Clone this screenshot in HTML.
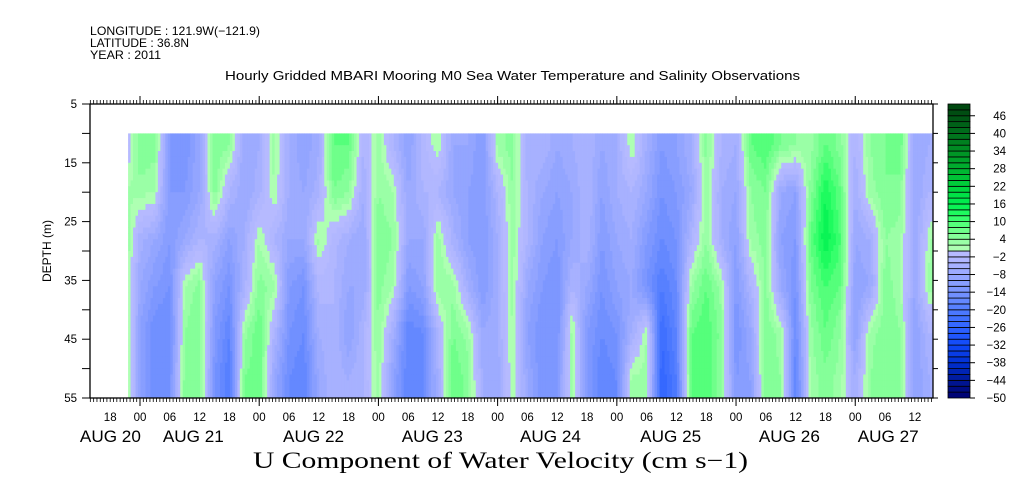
<!DOCTYPE html>
<html><head><meta charset="utf-8"><style>
html,body{margin:0;padding:0;background:#fff;}
svg{display:block;font-family:"Liberation Sans",sans-serif;}
</style></head><body>
<svg id="chart" width="1009" height="504" viewBox="0 0 1009 504" xmlns="http://www.w3.org/2000/svg">
<g font-size="12" fill="#000">
<text x="90" y="35" textLength="170" lengthAdjust="spacingAndGlyphs">LONGITUDE : 121.9W(−121.9)</text>
<text x="90" y="47" textLength="99" lengthAdjust="spacingAndGlyphs">LATITUDE : 36.8N</text>
<text x="90" y="59" textLength="71" lengthAdjust="spacingAndGlyphs">YEAR : 2011</text>
</g>
<text x="225" y="80" font-size="12.5" textLength="575" lengthAdjust="spacingAndGlyphs">Hourly Gridded MBARI Mooring M0 Sea Water Temperature and Salinity Observations</text>
<g id="heat"></g>
<g id="axes"></g>
<g id="cbar"></g>
<text x="0" y="0" transform="translate(51,251) rotate(-90)" text-anchor="middle" font-size="12">DEPTH (m)</text>
<text x="253" y="468" font-family="Liberation Serif,serif" font-size="23" textLength="495" lengthAdjust="spacingAndGlyphs">U Component of Water Velocity (cm s−1)</text>
</svg>
<script>
// hours since AUG 21 00:00, every 3 h
const times = [-3,0,3,6,9,12,15,18,21,24,27,30,33,36,39,42,45,48,51,54,57,60,63,66,69,72,75,78,81,84,87,90,93,96,99,102,105,108,111,114,117,120,123,126,129,132,135,138,141,144,147,150,153,156,159];
const depths = [12,20,28,36,44,52];
const vel12 = [-4,6,5,-12,-14,-8,6,4,-8,-6,3,-6,-10,-6,8,8,-4,3,-4,-10,-3,2,-8,-8,-12,3,5,-6,-4,-8,-6,-4,-8,-6,2,-6,-12,-10,-6,5,-4,-6,8,10,6,4,3,8,5,-4,4,6,8,-8,-6];
const vel20 = [2,3,2,-12,-12,-8,5,-4,-8,-5,2,-6,-8,-5,6,4,-6,4,2,-8,-4,-4,-8,-10,-12,-4,4,-4,-8,-10,-8,-4,-10,-6,-4,-8,-14,-12,-8,3,-6,-8,4,6,-8,-10,5,14,8,-6,3,6,5,-8,-4];
const vel28 = [5,-5,-8,-12,-8,-4,-5,-10,-6,2,-4,-8,-8,3,-3,-6,-8,6,4,-8,-8,3,-5,-10,-12,-6,3,-4,-10,-12,-8,-4,-12,-8,-6,-12,-16,-14,-4,4,-6,-10,3,5,-10,-12,8,16,10,-8,-6,4,3,-8,2];
const vel36 = [5,-8,-12,-14,2,5,-10,-14,-5,5,3,-12,-14,-3,-4,-8,-8,5,2,-12,-10,4,3,-6,-12,-6,3,-8,-12,-14,-4,-8,-14,-10,-8,-14,-20,-16,3,8,3,-12,-4,5,-8,-14,6,10,8,-10,-8,5,3,-8,3];
const vel44 = [6,-10,-16,-16,4,6,-12,-18,3,8,-4,-14,-16,-6,-4,-10,-4,4,-6,-18,-16,-4,6,3,-8,-6,2,-10,-14,-14,3,-12,-16,-14,-6,2,-24,-18,8,10,5,-14,-8,6,3,-16,3,8,4,-10,3,6,4,-10,-4];
const vel52 = [6,-10,-16,-14,5,6,-14,-20,6,8,-8,-16,-18,-8,-4,-6,-4,3,-10,-18,-16,-6,8,5,-6,-8,2,-8,-14,-12,3,-12,-18,-16,3,3,-26,-20,8,10,4,-12,-10,6,4,-18,3,5,3,-6,4,6,4,-10,-6];
const rows = [vel12,vel20,vel28,vel36,vel44,vel52];
const yTicks = [5,15,25,35,45,55];
const xTickHours = [-6,0,6,12,18,24,30,36,42,48,54,60,66,72,78,84,90,96,102,108,114,120,126,132,138,144,150,156];
const dayLabels = ["AUG 20","AUG 21","AUG 22","AUG 23","AUG 24","AUG 25","AUG 26","AUG 27"];
const dayLabelHours = [-12.1,4.6,28.8,52.7,76.5,100.7,124.6,144.5];
const cbarTicks = [-50,-44,-38,-32,-26,-20,-14,-8,-2,4,10,16,22,28,34,40,46];

const NS='http://www.w3.org/2000/svg';
const X0=90,X1=933,Y0=104,Y1=398;
const xScale=t=>140+t*4.967;
const yScale=d=>Y0+(d-5)*(Y1-Y0)/50;
const cScale=v=>Y1-(v+50)*(Y1-Y0)/100;
function mk(tag,attrs,parent){const e=document.createElementNS(NS,tag);for(const k in attrs)e.setAttribute(k,attrs[k]);parent.appendChild(e);return e;}
function lerpC(a,b,f){return a.map((v,i)=>Math.round(v+(b[i]-v)*f));}
const negStops=[[-50,[0,0,112]],[-44,[0,24,150]],[-38,[0,48,210]],[-32,[16,72,248]],[-26,[48,100,255]],[-20,[80,124,255]],[-14,[120,148,255]],[-8,[152,168,255]],[-2,[182,186,255]]];
const posStops=[[0,[184,255,184]],[4,[144,255,160]],[8,[100,255,130]],[12,[40,255,100]],[16,[0,240,80]],[22,[0,210,60]],[28,[0,178,48]],[34,[0,144,36]],[40,[0,112,28]],[48,[0,72,16]]];
function color(v){
  let lvl=Math.floor((Math.max(-50,Math.min(49.99,v))+50)/2);
  let c=-50+lvl*2+1;
  const st=c<0?negStops:posStops;
  if(c<=st[0][0])return 'rgb('+st[0][1]+')';
  for(let i=0;i<st.length-1;i++){if(c<=st[i+1][0]){const f=(c-st[i][0])/(st[i+1][0]-st[i][0]);return 'rgb('+lerpC(st[i][1],st[i+1][1],f)+')';}}
  return 'rgb('+st[st.length-1][1]+')';
}
function sample(t,d){
  let i=0;while(i<times.length-2&&t>times[i+1])i++;
  let ft=Math.max(0,Math.min(1,(t-times[i])/(times[i+1]-times[i])));
  let j=0;while(j<depths.length-2&&d>depths[j+1])j++;
  let fd=Math.max(0,Math.min(1,(d-depths[j])/(depths[j+1]-depths[j])));
  const a=rows[j][i]*(1-ft)+rows[j][i+1]*ft, b=rows[j+1][i]*(1-ft)+rows[j+1][i+1]*ft;
  return a*(1-fd)+b*fd;
}
const heat=document.getElementById('heat');
const tStart=-2.4,tEnd=159.4,dt=0.5,dd=1;
for(let t=tStart;t<tEnd;t+=dt){
  for(let d=10;d<55;d+=dd){
    const r=mk('rect',{x:xScale(t).toFixed(2),y:yScale(d).toFixed(2),width:(dt*4.967+0.4).toFixed(2),height:(dd*5.88+0.4).toFixed(2),fill:color(sample(t+dt/2,d+dd/2))},heat);
    
    
  }
}
const ax=document.getElementById('axes');
const fr=mk('rect',{x:X0,y:Y0,width:X1-X0,height:Y1-Y0,fill:'none',stroke:'#000','stroke-width':1.3},ax);


for(let t=-10;t<=160;t+=2/3){const x=xScale(t);if(x<X0||x>X1)continue;
  mk('line',{x1:x,y1:Y0,x2:x,y2:Y0-4,stroke:'#000','stroke-width':0.8},ax);
  mk('line',{x1:x,y1:Y1,x2:x,y2:Y1+4,stroke:'#000','stroke-width':0.8},ax);}
xTickHours.forEach(h=>{const x=xScale(h);if(x<X0)return;
  const big=(h%24===0);
  if(big){mk('line',{x1:x,y1:Y0,x2:x,y2:Y0-8,stroke:'#000'},ax);mk('line',{x1:x,y1:Y1,x2:x,y2:Y1+8,stroke:'#000'},ax);}
  const lab=String(((h%24)+24)%24).padStart(2,'0');
  const tx=mk('text',{x:x,y:421,'text-anchor':'middle','font-size':11.5},ax);tx.textContent=lab;
  
  
});
dayLabels.forEach((s,i)=>{const tx=mk('text',{x:xScale(dayLabelHours[i]),y:442,'font-size':17,textLength:61,lengthAdjust:'spacingAndGlyphs'},ax);tx.textContent=s;
  
  });
for(let d=5;d<=55;d+=5){const y=yScale(d);
  mk('line',{x1:X0-8,y1:y,x2:X0,y2:y,stroke:'#000'},ax);
  mk('line',{x1:X1,y1:y,x2:X1+5,y2:y,stroke:'#000'},ax);}
yTicks.forEach(d=>{const tx=mk('text',{x:X0-13,y:yScale(d)+4,'text-anchor':'end','font-size':11.5},ax);tx.textContent=d;
  
  });
const cb=document.getElementById('cbar');
for(let v=-50;v<50;v+=2){const y1=cScale(v+2),y2=cScale(v);
  const r=mk('rect',{x:948,y:y1,width:22,height:y2-y1,fill:color(v+1),stroke:'#000','stroke-width':0.8},cb);
  
  }
cbarTicks.forEach(v=>{const y=cScale(v);
  mk('line',{x1:970,y1:y,x2:975,y2:y,stroke:'#000'},cb);
  const tx=mk('text',{x:1006,y:y+4,'text-anchor':'end','font-size':11.5},cb);tx.textContent=String(v).replace('-','−');
  
  });
</script>
</body></html>
